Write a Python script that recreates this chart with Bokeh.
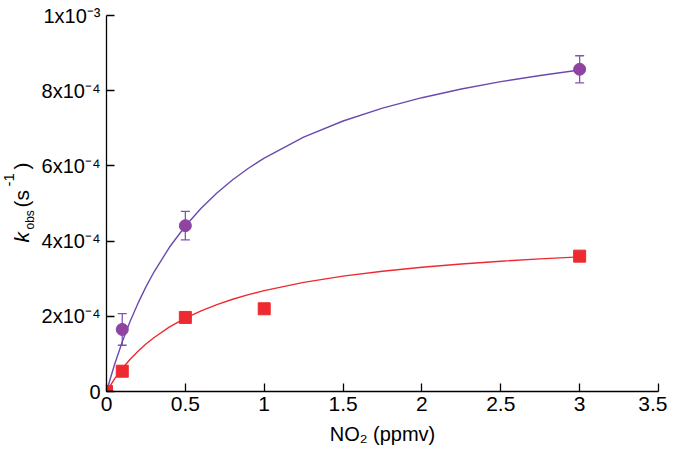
import math
from bokeh.plotting import figure
from bokeh.layouts import row
from bokeh.models import Range1d, FixedTicker, Label, Whisker, TeeHead, ColumnDataSource
from bokeh.embed import file_html
from bokeh.resources import INLINE

# ---- data ----
no2_purple = [0.0, 0.1, 0.5, 3.0]
k_purple = [0.0, 1.65e-4, 4.41e-4, 8.57e-4]
err_purple = [0.0, 0.42e-4, 0.38e-4, 0.36e-4]

no2_red = [0.0, 0.1, 0.5, 1.0, 3.0]
k_red = [0.0, 0.54e-4, 1.97e-4, 2.20e-4, 3.60e-4]
err_red = [0.0, 0.04e-4, 0.12e-4, 0.10e-4, 0.10e-4]

fit_x = [0.0, 0.05, 0.1, 0.15, 0.2, 0.25, 0.3, 0.4, 0.5, 0.6, 0.7, 0.8, 0.9, 1.0,
         1.25, 1.5, 1.75, 2.0, 2.25, 2.5, 2.75, 3.0]
fit_purple = [0.0, 0.705e-4, 1.322e-4, 1.866e-4, 2.349e-4, 2.782e-4, 3.171e-4, 3.842e-4, 4.401e-4,
              4.875e-4, 5.280e-4, 5.631e-4, 5.938e-4, 6.209e-4,
              6.765e-4, 7.194e-4, 7.536e-4, 7.814e-4, 8.045e-4, 8.240e-4, 8.406e-4, 8.550e-4]
fit_red = [0.0, 0.330e-4, 0.613e-4, 0.858e-4, 1.072e-4, 1.262e-4, 1.430e-4, 1.717e-4, 1.951e-4,
           2.146e-4, 2.312e-4, 2.454e-4, 2.577e-4, 2.684e-4,
           2.902e-4, 3.069e-4, 3.199e-4, 3.305e-4, 3.392e-4, 3.466e-4, 3.528e-4, 3.581e-4]

x_ticks = [0, 0.5, 1, 1.5, 2, 2.5, 3, 3.5]
x_tick_labels = ["0", "0.5", "1", "1.5", "2", "2.5", "3", "3.5"]
y_ticks = [0, 2e-4, 4e-4, 6e-4, 8e-4, 1e-3]
y_tick_labels = ["0", "2x10\u207b\u2074", "4x10\u207b\u2074", "6x10\u207b\u2074", "8x10\u207b\u2074", "1x10\u207b\u00b3"]

FONT = "Liberation Sans"
PURPLE_LINE = "#6C4AAE"
PURPLE_MARK = "#8E44A0"
PURPLE_ERR = "#8255B5"
RED = "#EE2A31"

LEFT_W = 38
TOTAL_W = 667
H = 456

p = figure(width=TOTAL_W - LEFT_W, height=H, output_backend="svg", toolbar_location=None,
           x_range=Range1d(0, 3.5), y_range=Range1d(0, 1e-3),
           min_border_left=68, min_border_right=9, min_border_top=15, min_border_bottom=65)
p.outline_line_color = None
p.xgrid.visible = False
p.ygrid.visible = False

for ax in (p.xaxis[0], p.yaxis[0]):
    ax.major_tick_in = 8
    ax.major_tick_out = 0
    ax.minor_tick_in = 0
    ax.minor_tick_out = 0
    ax.axis_line_color = "black"
    ax.axis_line_width = 1.3
    ax.major_tick_line_color = "black"
    ax.major_tick_line_width = 1.3
    ax.major_label_text_font = FONT
    ax.major_label_text_color = "black"

p.xaxis.major_label_text_font_size = "21px"
p.xaxis.ticker = FixedTicker(ticks=x_ticks)
p.xaxis.major_label_overrides = {t: l for t, l in zip(x_ticks, x_tick_labels)}
p.xaxis.major_label_standoff = 5
p.xaxis.axis_label = "NO\u2082 (ppmv)"
p.xaxis.axis_label_text_font = FONT
p.xaxis.axis_label_text_font_size = "20px"
p.xaxis.axis_label_text_font_style = "normal"
p.xaxis.axis_label_text_color = "black"
p.xaxis.axis_label_standoff = 9

p.yaxis.major_label_text_font_size = "20px"
p.yaxis.ticker = FixedTicker(ticks=y_ticks)
p.yaxis.major_label_overrides = {t: l for t, l in zip(y_ticks, y_tick_labels)}
p.yaxis.major_label_standoff = 6

# fitted curves
p.line(fit_x, fit_purple, line_color=PURPLE_LINE, line_width=1.4)
p.line(fit_x, fit_red, line_color=RED, line_width=1.4)

# error bars
src_p = ColumnDataSource(dict(x=no2_purple,
                              lo=[k - e for k, e in zip(k_purple, err_purple)],
                              hi=[k + e for k, e in zip(k_purple, err_purple)]))
src_r = ColumnDataSource(dict(x=no2_red,
                              lo=[k - e for k, e in zip(k_red, err_red)],
                              hi=[k + e for k, e in zip(k_red, err_red)]))
p.add_layout(Whisker(base="x", lower="lo", upper="hi", source=src_p, line_color=PURPLE_ERR, line_width=1.3,
                     upper_head=TeeHead(size=9, line_color=PURPLE_ERR, line_width=1.3),
                     lower_head=TeeHead(size=9, line_color=PURPLE_ERR, line_width=1.3)))
p.add_layout(Whisker(base="x", lower="lo", upper="hi", source=src_r, line_color=RED, line_width=1.3,
                     upper_head=TeeHead(size=9, line_color=RED, line_width=1.3),
                     lower_head=TeeHead(size=9, line_color=RED, line_width=1.3)))

# markers
p.scatter(no2_purple, k_purple, marker="circle", size=12, fill_color=PURPLE_MARK, line_color=PURPLE_MARK)
p.scatter(no2_red, k_red, marker="square", size=12, fill_color=RED, line_color=RED)

# narrow side panel carrying the rotated y-axis title k_obs (s^-1)
# (its frame is aligned with the main frame: image rows 15..391 -> 441..65)
lab = figure(width=LEFT_W, height=H, output_backend="svg", toolbar_location=None,
             x_range=Range1d(0, LEFT_W), y_range=Range1d(65, 441),
             min_border_left=0, min_border_right=0, min_border_top=15, min_border_bottom=65)
lab.axis.visible = False
lab.xgrid.visible = False
lab.ygrid.visible = False
lab.outline_line_color = None

def ylab(txt, x, y, size, style="normal"):
    lab.add_layout(Label(x=x, y=y, text=txt, angle=math.pi / 2, text_font=FONT,
                         text_font_size=size, text_font_style=style, text_color="black",
                         text_align="left", text_baseline="alphabetic"))

ylab("k", 21, 214, "21px", "italic")
ylab("obs", 29, 227, "12px")
ylab("(s", 21, 249, "21px")
ylab("-1", 8, 270, "15px")
ylab(")", 21, 287, "21px")

layout = row(lab, p, spacing=0)
open("out.html", "w").write(file_html(layout, INLINE))
